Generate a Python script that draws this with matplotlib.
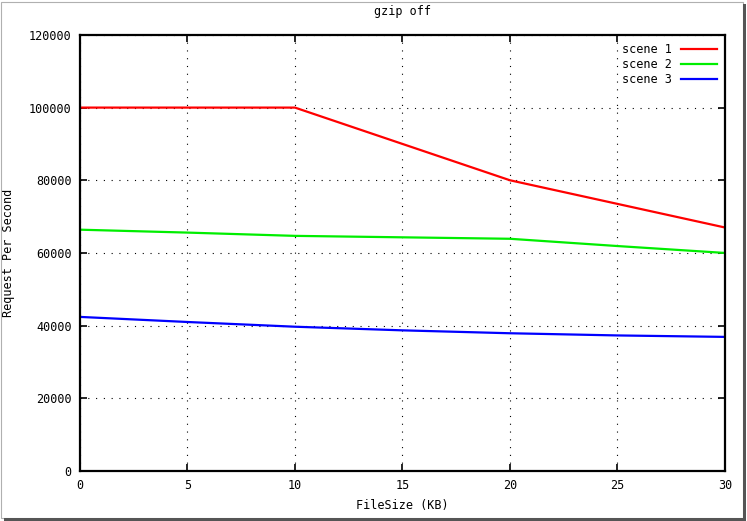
import matplotlib.pyplot as plt
from matplotlib.patches import Rectangle

file_size = [0, 5, 10, 15, 20, 25, 30]
scene1 = [100000, 100000, 100000, 90000, 80000, 73500, 67000]
scene2 = [66400, 65600, 64700, 64300, 63900, 61900, 60000]
scene3 = [42400, 41000, 39700, 38700, 37900, 37300, 36900]

plt.rcParams['font.family'] = ['DejaVu Sans Mono']

fig = plt.figure(figsize=(7.47, 5.21), dpi=100)
ax = fig.add_axes([0.107, 0.096, 0.8635, 0.837])

ax.plot(file_size, scene1, color='#ff0000', lw=1.6, label='scene 1')
ax.plot(file_size, scene2, color='#00ee00', lw=1.6, label='scene 2')
ax.plot(file_size, scene3, color='#0000ff', lw=1.6, label='scene 3')

ax.set_xlim(0, 30)
ax.set_ylim(0, 120000)
ax.set_xticks(range(0, 31, 5))
ax.set_yticks(range(0, 120001, 20000))
ax.grid(True, color='black', linestyle=(0, (1, 6)), lw=0.8)
ax.tick_params(direction='in', top=True, right=True, length=5, width=1.2,
               labelsize=8.5, pad=6)
for s in ax.spines.values():
    s.set_linewidth(1.6)

ax.set_title('gzip off', fontsize=8.5, pad=14)
ax.set_xlabel('FileSize (KB)', fontsize=8.5, labelpad=5)
ax.set_ylabel('Request Per Second', fontsize=8.5, labelpad=10)

leg = ax.legend(loc='upper right', frameon=False, markerfirst=False,
                fontsize=8.5, handlelength=3, labelspacing=0.15,
                borderaxespad=0.3)

# screenshot-like border with shadow
fig.patches.append(Rectangle((0.002, 0.006), 0.992, 0.99, transform=fig.transFigure,
                             fill=False, edgecolor='#b0b0b0', lw=0.8))
fig.patches.append(Rectangle((0.994, 0.006), 0.004, 0.986, transform=fig.transFigure,
                             color='#555555', lw=0))
fig.patches.append(Rectangle((0.006, 0.0), 0.992, 0.006, transform=fig.transFigure,
                             color='#555555', lw=0))

fig.savefig('out.png', dpi=100)
